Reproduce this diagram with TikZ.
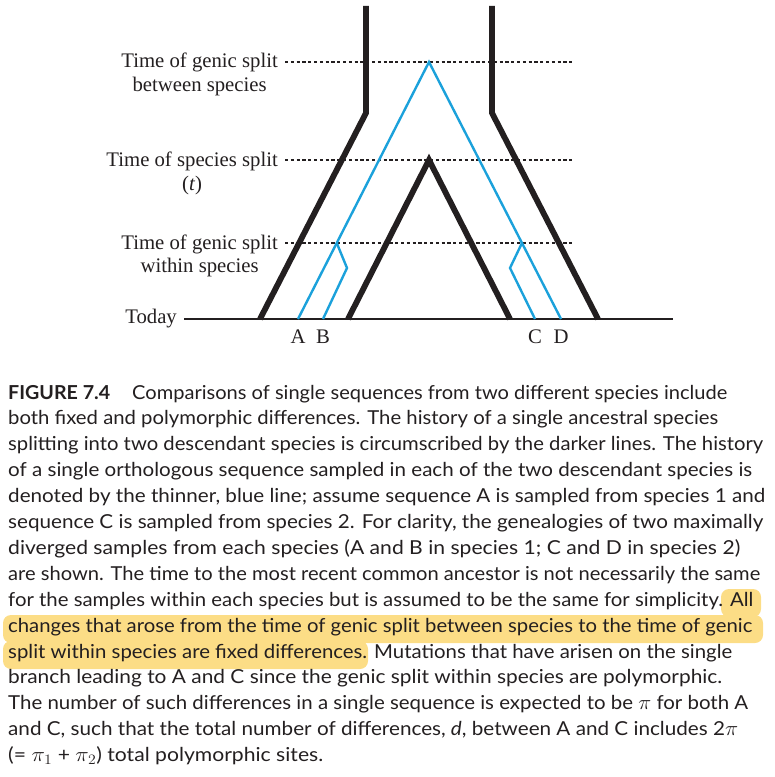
\documentclass[tikz,border=0pt]{standalone}
\usepackage{fontspec}
\usepackage{graphicx}
\usetikzlibrary{calc}
\setmainfont{Liberation Serif}
\newfontfamily\capfont{Lato}
\definecolor{inkblack}{RGB}{35,31,32}
\definecolor{seqblue}{RGB}{27,161,219}
\definecolor{hilite}{RGB}{252,221,134}
\tikzset{
  species/.style={draw=inkblack, line width=5.8bp, line join=miter},
  gene/.style={draw=seqblue, line width=2.4bp, line join=miter},
  timeline/.style={draw=inkblack, line width=1.6bp, dash pattern=on 3.2bp off 2.6bp},
  todayline/.style={draw=inkblack, line width=1.2bp},
  lab/.style={font=\fontsize{20.8}{24}\selectfont, text=inkblack, inner sep=0pt},
  capline/.style={font=\capfont\fontsize{19.3}{23}\selectfont, text=inkblack, inner sep=0pt, anchor=base west},
  hl/.style={fill=hilite, rounded corners=8bp},
}
\newcommand{\capw}[2]{\resizebox{#1bp}{\height}{#2}}
\begin{document}
\begin{tikzpicture}[x=1bp,y=-1bp]
\useasboundingbox (0,0) rectangle (775,777);
% coordinates of the tree
\coordinate (Ltop) at (366,6);
\coordinate (Lbend) at (366,113);
\coordinate (Lfoot) at (260,319);
\coordinate (Rtop) at (492,6);
\coordinate (Rbend) at (492,113);
\coordinate (Rfoot) at (598,319);
\coordinate (Iapex) at (429,160);
\coordinate (Ileft) at (348,319);
\coordinate (Iright) at (510,319);
\coordinate (Gapex) at (429,62);
\coordinate (footA) at (298,319);
\coordinate (footB) at (323,319);
\coordinate (footC) at (535,319);
\coordinate (footD) at (561,319);
\coordinate (splitAB) at ($(Gapex)!0.7043!(footA)$);
\coordinate (splitCD) at ($(Gapex)!0.7043!(footD)$);
\coordinate (kinkB) at (347,268);
\coordinate (kinkC) at (510,268);
% time lines
\coordinate (t1s) at (285,62);  \coordinate (t1e) at (573,62);
\coordinate (t2s) at (285,160); \coordinate (t2e) at (573,160);
\coordinate (t3s) at (285,243); \coordinate (t3e) at (573,243);
\coordinate (tds) at (184,319); \coordinate (tde) at (673,319);
\draw[timeline] (t1s) -- (t1e);
\draw[timeline] (t2s) -- (t2e);
\draw[timeline] (t3s) -- (t3e);
\draw[todayline] (tds) -- (tde);
% species
\draw[species] (Ltop) -- (Lbend) -- (Lfoot);
\draw[species] (Rtop) -- (Rbend) -- (Rfoot);
\draw[species] (Ileft) -- (Iapex) -- (Iright);
% genes
\draw[gene] (footA) -- (Gapex) -- (footD);
\draw[gene] (splitAB) -- (kinkB) -- (footB);
\draw[gene] (splitCD) -- (kinkC) -- (footC);
% labels
\node[lab, anchor=base east] (l1a) at (278,68) {Time of genic split};
\node[lab, anchor=base] (l1b) at ([yshift=-23bp]l1a.base) {between species};
\node[lab, anchor=base east] (l2a) at (278,166) {Time of species split};
\node[lab, anchor=base] (l2b) at ([yshift=-24bp]l2a.base) {(\textit{t})};
\node[lab, anchor=base east] (l3a) at (278,249) {Time of genic split};
\node[lab, anchor=base] (l3b) at ([yshift=-23bp]l3a.base) {within species};
\node[lab, anchor=base east] (ltd) at (177,323) {Today};
\node[lab, anchor=base] (nA) at (298,343) {A};
\node[lab, anchor=base] (nB) at (323,343) {B};
\node[lab, anchor=base] (nC) at (535,343) {C};
\node[lab, anchor=base] (nD) at (561,343) {D};
% highlight
\fill[hl] (721,589) rectangle (761,617);
\fill[hl] (3,615) rectangle (763,643);
\fill[hl] (3,641) rectangle (368,669);
% caption
\node[capline] (c1a) at (8,399) {\capw{102}{\bfseries FIGURE 7.4}};
\node[capline] (c1b) at (132,399) {\capw{595}{Comparisons of single sequences from two different species include}};
\node[capline] (c2) at (8,424.9) {\capw{710}{both fixed and polymorphic differences. The history of a single ancestral species}};
\node[capline] (c3) at (8,450.8) {\capw{755}{splitting into two descendant species is circumscribed by the darker lines. The history}};
\node[capline] (c4) at (8,476.7) {\capw{744}{of a single orthologous sequence sampled in each of the two descendant species is}};
\node[capline] (c5) at (8,502.6) {\capw{757}{denoted by the thinner, blue line; assume sequence A is sampled from species 1 and}};
\node[capline] (c6) at (8,528.5) {\capw{755}{sequence C is sampled from species 2. For clarity, the genealogies of two maximally}};
\node[capline] (c7) at (8,554.4) {\capw{732}{diverged samples from each species (A and B in species 1; C and D in species 2)}};
\node[capline] (c8) at (8,580.3) {\capw{752}{are shown. The time to the most recent common ancestor is not necessarily the same}};
\node[capline] (c9) at (8,606.2) {\capw{745}{for the samples within each species but is assumed to be the same for simplicity. All}};
\node[capline] (c10) at (8,632.1) {\capw{744}{changes that arose from the time of genic split between species to the time of genic}};
\node[capline] (c11) at (8,658) {\capw{724}{split within species are fixed differences. Mutations that have arisen on the single}};
\node[capline] (c12) at (8,683.9) {\capw{714}{branch leading to A and C since the genic split within species are polymorphic.}};
\node[capline] (c13) at (8,709.8) {\capw{740}{The number of such differences in a single sequence is expected to be $\pi$ for both A}};
\node[capline] (c14) at (8,735.7) {\capw{730}{and C, such that the total number of differences, \textit{d}, between A and C includes 2$\pi$}};
\node[capline] (c15) at (8,761.6) {\capw{315}{(= $\pi_1$ + $\pi_2$) total polymorphic sites.}};
\end{tikzpicture}
\end{document}
